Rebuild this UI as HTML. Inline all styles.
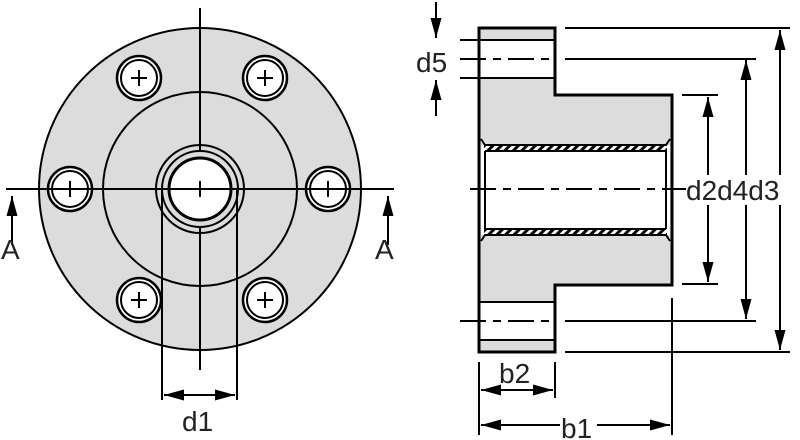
<!DOCTYPE html><html><head><meta charset="utf-8"><style>body{margin:0;background:#fff}svg{display:block}text{font-family:"Liberation Sans",sans-serif;font-size:28px;fill:#222}</style></head><body>
<svg width="800" height="440" viewBox="0 0 800 440" xmlns="http://www.w3.org/2000/svg">
<defs>
<marker id="a" viewBox="0 0 10 10" refX="10" refY="5" markerWidth="20" markerHeight="11" preserveAspectRatio="none" orient="auto" markerUnits="userSpaceOnUse"><path d="M0,0L10,5L0,10z" fill="#000"/></marker>
<marker id="b" viewBox="0 0 10 10" refX="0" refY="5" markerWidth="20" markerHeight="11" preserveAspectRatio="none" orient="auto" markerUnits="userSpaceOnUse"><path d="M10,0L0,5L10,10z" fill="#000"/></marker>
<pattern id="h" width="6" height="6" patternUnits="userSpaceOnUse" patternTransform="rotate(45)"><rect width="3" height="6" fill="#000"/></pattern>
</defs>
<g stroke="#000" stroke-width="2" fill="none">
<circle cx="200" cy="189" r="161" fill="#dcdcdc"/>
<circle cx="200" cy="189" r="97"/>
<circle cx="200" cy="189" r="44"/>
<circle cx="200" cy="189" r="38"/>
<circle cx="200" cy="189" r="31" fill="#fff" stroke-width="3"/>
<g fill="#fff">
<circle cx="139" cy="78" r="22" stroke-width="2.5"/><circle cx="139" cy="78" r="18" stroke-width="2"/>
<circle cx="265" cy="78" r="22" stroke-width="2.5"/><circle cx="265" cy="78" r="18" stroke-width="2"/>
<circle cx="70" cy="189" r="22" stroke-width="2.5"/><circle cx="70" cy="189" r="18" stroke-width="2"/>
<circle cx="328" cy="189" r="22" stroke-width="2.5"/><circle cx="328" cy="189" r="18" stroke-width="2"/>
<circle cx="139" cy="300" r="22" stroke-width="2.5"/><circle cx="139" cy="300" r="18" stroke-width="2"/>
<circle cx="265" cy="300" r="22" stroke-width="2.5"/><circle cx="265" cy="300" r="18" stroke-width="2"/>
</g>
<path d="M131,78h16M139,70v16M257,78h16M265,70v16M70,181v16M328,181v16M131,300h16M139,292v16M257,300h16M265,292v16M200,181v16"/>
<path d="M6,189H394M200,8V150M200,228V370M162,190V400M237,190V400"/>
<path d="M164,395H235" marker-start="url(#b)" marker-end="url(#a)"/>
<path d="M12,245V196" marker-end="url(#a)"/>
<path d="M388,245V196" marker-end="url(#a)"/>
<path d="M479,28H555V95H672V285H555V352H479Z" fill="#dcdcdc" stroke-width="3"/>
<rect x="479" y="40" width="76" height="38" fill="#fff" stroke="none"/>
<rect x="479" y="302" width="76" height="38" fill="#fff" stroke="none"/>
<rect x="481" y="145" width="189" height="90" fill="#fff" stroke="none"/>
<rect x="484" y="145" width="183" height="6" fill="url(#h)" stroke="none"/>
<rect x="484" y="229" width="183" height="6" fill="url(#h)" stroke="none"/>
<path d="M481,139L485,145H666L670,139M481,241L485,235H666L670,241" stroke-width="2"/>
<path d="M485,151H666M485,229H666M485,151V229M666,151V229" stroke-width="2"/>
<path d="M479,28V352M555,28V95M555,285V352" stroke-width="3"/>
<path d="M479,40H555M479,78H555M479,302H555M479,340H555M460,40H479M460,78H479"/>
<path d="M460,59H555M460,321H555M470,189H690" stroke-dasharray="26,7,8,7"/>
<path d="M565,28H790M565,59H756M565,321H756M565,352H790M682,95H718M682,284H718M682,189h4"/>
<path d="M436,2V38" marker-end="url(#a)"/>
<path d="M436,116V80" marker-end="url(#a)"/>
<path d="M708,97V282" marker-start="url(#b)" marker-end="url(#a)"/>
<path d="M746,60V319" marker-start="url(#b)" marker-end="url(#a)"/>
<path d="M780,30V350" marker-start="url(#b)" marker-end="url(#a)"/>
<path d="M479,362V435M555,362V398M672,298V435"/>
<path d="M481,390H553" marker-start="url(#b)" marker-end="url(#a)"/>
<path d="M481,425H560" marker-start="url(#b)"/>
<path d="M597,425H670" marker-end="url(#a)"/>
</g>
<rect x="686" y="175" width="114" height="30" fill="#fff"/>
<text x="686" y="200">d2d4d3</text>
<text x="416" y="72">d5</text>
<text x="182" y="431">d1</text>
<text x="1" y="259">A</text>
<text x="375" y="259">A</text>
<text x="499" y="383">b2</text>
<text x="561" y="438">b1</text>
</svg></body></html>
